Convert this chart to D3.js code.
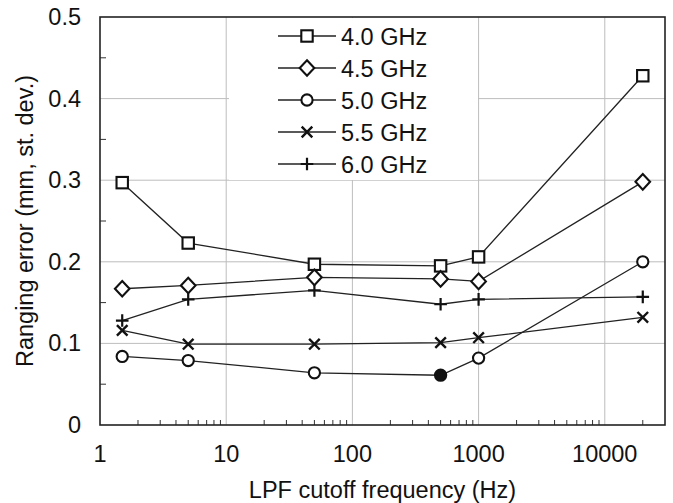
<!DOCTYPE html>
<html>
<head>
<meta charset="utf-8">
<script src="https://cdn.jsdelivr.net/npm/d3@7"></script>
<style>
  body { margin: 0; background: #fff; }
  svg text { font-family: "Liberation Sans", Arial, sans-serif; fill: #111; }
</style>
</head>
<body>
<div class="chart"></div>
<script>
// data
const freqs = [1.5, 5, 50, 500, 1000, 20000];
const seriesNames = ["4.0 GHz", "4.5 GHz", "5.0 GHz", "5.5 GHz", "6.0 GHz"];
const seriesShapes = ["square", "diamond", "circle", "times", "plus"];
const err40 = [0.297, 0.223, 0.197, 0.195, 0.206, 0.428];
const err45 = [0.167, 0.171, 0.181, 0.179, 0.176, 0.298];
const err50 = [0.084, 0.079, 0.064, 0.061, 0.082, 0.200];
const err55 = [0.116, 0.099, 0.099, 0.101, 0.107, 0.132];
const err60 = [0.128, 0.154, 0.165, 0.148, 0.154, 0.157];
// the one solid marker (5.0 GHz at 500 Hz)
const filled50 = [false, false, false, true, false, false];

const xTicks = [1, 10, 100, 1000, 10000];
const xTickLabels = ["1", "10", "100", "1000", "10000"];
const yTicks = [0, 0.1, 0.2, 0.3, 0.4, 0.5];
const yTickLabels = ["0", "0.1", "0.2", "0.3", "0.4", "0.5"];

const allSeries = [err40, err45, err50, err55, err60];

const w = 673;
const h = 503;
const padL = 100, padR = 665, padT = 17, padB = 425;
const fontSize = "23.5px";

const xScale = d3.scaleLog().domain([1, 30000]).range([padL, padR]);
const yScale = d3.scaleLinear().domain([0, 0.5]).range([padB, padT]);

const svg = d3.select(".chart").append("svg").attr("width", w).attr("height", h);

// grid
svg.append("g").selectAll("line").data(xTicks.slice(1)).enter().append("line")
  .attr("x1", d => xScale(d)).attr("x2", d => xScale(d))
  .attr("y1", padT).attr("y2", padB)
  .attr("stroke", "#bdbdbd").attr("stroke-width", 1);
svg.append("g").selectAll("line").data(yTicks.slice(1, -1)).enter().append("line")
  .attr("x1", padL).attr("x2", padR)
  .attr("y1", d => yScale(d)).attr("y2", d => yScale(d))
  .attr("stroke", "#bdbdbd").attr("stroke-width", 1);

// legend backdrop hides the grid behind it
svg.append("rect").attr("x", 229).attr("y", padT + 1).attr("width", 249).attr("height", 162)
  .attr("fill", "#fff");

// minor ticks inside the frame
const xMinor = [];
for (let dec = 1; dec <= 10000; dec *= 10) {
  for (let k = 2; k <= 9; k++) {
    if (dec * k < 30000) xMinor.push(dec * k);
  }
}
svg.append("g").selectAll("line").data(xMinor).enter().append("line")
  .attr("x1", d => xScale(d)).attr("x2", d => xScale(d))
  .attr("y1", padB).attr("y2", padB - 5)
  .attr("stroke", "#333").attr("stroke-width", 1);
svg.append("g").selectAll("line").data([0.05, 0.15, 0.25, 0.35, 0.45]).enter().append("line")
  .attr("x1", padL).attr("x2", padL + 6)
  .attr("y1", d => yScale(d)).attr("y2", d => yScale(d))
  .attr("stroke", "#333").attr("stroke-width", 1);

// frame
svg.append("rect").attr("x", padL).attr("y", padT)
  .attr("width", padR - padL).attr("height", padB - padT)
  .attr("fill", "none").attr("stroke", "#222").attr("stroke-width", 1.6);

// tick labels
svg.append("g").selectAll("text").data(xTicks).enter().append("text")
  .attr("x", d => xScale(d)).attr("y", 462)
  .attr("text-anchor", "middle").style("font-size", fontSize)
  .text((d, i) => xTickLabels[i]);
svg.append("g").selectAll("text").data(yTicks).enter().append("text")
  .attr("x", 81).attr("y", d => yScale(d) + 8)
  .attr("text-anchor", "end").style("font-size", fontSize)
  .text((d, i) => yTickLabels[i]);

// axis titles
svg.append("text").attr("x", (padL + padR) / 2).attr("y", 498)
  .attr("text-anchor", "middle").style("font-size", fontSize)
  .text("LPF cutoff frequency (Hz)");
svg.append("text").attr("transform", "translate(33," + (padT + padB) / 2 + ") rotate(-90)")
  .attr("text-anchor", "middle").style("font-size", fontSize)
  .text("Ranging error (mm, st. dev.)");

function drawMarker(g, shape, x, y, filled) {
  const fill = filled ? "#111" : "#fff";
  const sw = 2.1;
  if (shape === "square") {
    g.append("rect").attr("x", x - 5.7).attr("y", y - 5.7).attr("width", 11.4).attr("height", 11.4)
      .attr("fill", fill).attr("stroke", "#111").attr("stroke-width", sw);
  } else if (shape === "diamond") {
    g.append("path").attr("d", `M${x},${y - 7.8}L${x + 7.3},${y}L${x},${y + 7.8}L${x - 7.3},${y}Z`)
      .attr("fill", fill).attr("stroke", "#111").attr("stroke-width", sw);
  } else if (shape === "circle") {
    g.append("circle").attr("cx", x).attr("cy", y).attr("r", 5.6)
      .attr("fill", fill).attr("stroke", "#111").attr("stroke-width", sw);
  } else if (shape === "times") {
    g.append("path").attr("d", `M${x - 5.3},${y - 5.3}L${x + 5.3},${y + 5.3}M${x - 5.3},${y + 5.3}L${x + 5.3},${y - 5.3}`)
      .attr("stroke", "#111").attr("stroke-width", 2.4);
  } else if (shape === "plus") {
    g.append("path").attr("d", `M${x - 6.3},${y}L${x + 6.3},${y}M${x},${y - 6.3}L${x},${y + 6.3}`)
      .attr("stroke", "#111").attr("stroke-width", 2.2);
  }
}

const line = d3.line().x((d, i) => xScale(freqs[i])).y(d => yScale(d));

allSeries.forEach(function (vals, s) {
  svg.append("path").datum(vals).attr("d", line)
    .attr("fill", "none").attr("stroke", "#222").attr("stroke-width", 1.3);
});
allSeries.forEach(function (vals, s) {
  const g = svg.append("g");
  vals.forEach(function (v, i) {
    const filled = s === 2 && filled50[i];
    drawMarker(g, seriesShapes[s], xScale(freqs[i]), yScale(v), filled);
  });
});

// legend
const legend = svg.append("g").attr("id", "legend");
seriesNames.forEach(function (name, i) {
  const y = 36 + i * 32;
  legend.append("line").attr("x1", 278).attr("x2", 336).attr("y1", y).attr("y2", y)
    .attr("stroke", "#222").attr("stroke-width", 1.3);
  drawMarker(legend, seriesShapes[i], 307, y, false);
  legend.append("text").attr("x", 341).attr("y", y + 8.5)
    .style("font-size", fontSize).text(name);
});
</script>
</body>
</html>
